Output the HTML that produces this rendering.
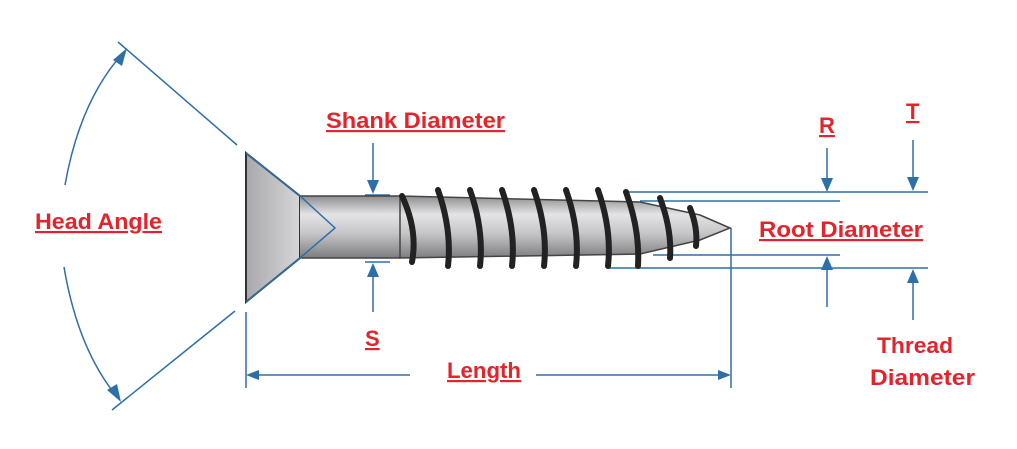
<!DOCTYPE html>
<html><head><style>
html,body{margin:0;padding:0;background:#fff;}
svg{display:block}
text{font-family:"Liberation Sans",sans-serif;font-weight:bold;fill:#e3242b;font-size:22px;text-decoration:underline;}
</style></head><body>
<svg width="1017" height="449" viewBox="0 0 1017 449" xmlns="http://www.w3.org/2000/svg">
<defs>
<linearGradient id="g" x1="0" y1="0" x2="0" y2="1">
<stop offset="0" stop-color="#8e8e92"/><stop offset="0.3" stop-color="#e4e4e6"/><stop offset="0.6" stop-color="#c6c6c9"/><stop offset="1" stop-color="#7d7d80"/>
</linearGradient>
<linearGradient id="h" x1="0" y1="0" x2="1" y2="0">
<stop offset="0" stop-color="#a9a9ad"/><stop offset="1" stop-color="#d6d6d8"/>
</linearGradient>
</defs>
<g fill="none" stroke="#2e6fa8" stroke-width="1.5">
<line x1="118" y1="42" x2="237" y2="145"/>
<line x1="235" y1="311" x2="112" y2="410"/>
<path d="M65 185 Q80 100 124 52"/>
<path d="M64 267 Q78 350 118 398"/>
<line x1="246" y1="312" x2="246" y2="388"/>
<line x1="731" y1="228" x2="731" y2="388"/>
<line x1="250" y1="375" x2="410" y2="375"/>
<line x1="536" y1="375" x2="726" y2="375"/>
<line x1="373" y1="143" x2="373" y2="185"/>
<line x1="373" y1="268" x2="373" y2="312"/>
<line x1="365" y1="195" x2="390" y2="195"/>
<line x1="365" y1="262" x2="390" y2="262"/>
<line x1="623" y1="192" x2="928" y2="192"/>
<line x1="640" y1="201" x2="840" y2="201"/>
<line x1="653" y1="255" x2="840" y2="255"/>
<line x1="608" y1="268" x2="928" y2="268"/>
<line x1="827" y1="148" x2="827" y2="185"/>
<line x1="827" y1="262" x2="827" y2="307"/>
<line x1="913" y1="140" x2="913" y2="180"/>
<line x1="913" y1="280" x2="913" y2="320"/>
</g>
<g fill="#2e6fa8">
<polygon points="127,48 113,60 122,66"/>
<polygon points="121,402 107,390 117,384"/>
<polygon points="246,375 259,370 259,380"/>
<polygon points="731,375 718,370 718,380"/>
<polygon points="373,194 367,180 379,180"/>
<polygon points="373,263 367,277 379,277"/>
<polygon points="827,192 821,178 833,178"/>
<polygon points="827,256 821,270 833,270"/>
<polygon points="913,191 907,177 919,177"/>
<polygon points="913,269 907,283 919,283"/>
</g>
<polygon points="246,153 300,196 300,258 246,302" fill="url(#h)" stroke="#333" stroke-width="2"/>
<rect x="300" y="196" width="100" height="62" fill="url(#g)"/>
<line x1="300" y1="196" x2="400" y2="196" stroke="#444" stroke-width="1.5"/>
<line x1="300" y1="258" x2="400" y2="258" stroke="#444" stroke-width="1.5"/>
<polygon points="400,196 640,202 700,215 730,228 700,240 640,254 400,258" fill="url(#g)" stroke="#444" stroke-width="1.5"/>
<g fill="none" stroke="#222" stroke-width="6" stroke-linecap="round">
<path d="M402 196 Q418 230 412 262"/>
<path d="M438 190 Q452 230 448 266"/>
<path d="M470 190 Q484 230 480 266"/>
<path d="M502 190 Q516 230 512 266"/>
<path d="M534 190 Q548 230 544 266"/>
<path d="M566 190 Q580 230 576 266"/>
<path d="M598 190 Q612 230 608 266"/>
<path d="M626 192 Q640 230 638 266"/>
<path d="M660 198 Q672 230 670 258"/>
<path d="M690 208 Q698 228 696 246"/>
</g>
<g fill="none" stroke="#2e6fa8" stroke-width="1.5">
<polyline points="246,153 300,196 335,228 300,258 246,302"/>
</g>
<text x="326" y="128" textLength="179" lengthAdjust="spacingAndGlyphs">Shank Diameter</text>
<text x="35" y="229" textLength="127" lengthAdjust="spacingAndGlyphs">Head Angle</text>
<text x="365" y="346">S</text>
<text x="819" y="133">R</text>
<text x="906" y="119">T</text>
<text x="759" y="237" textLength="164" lengthAdjust="spacingAndGlyphs">Root Diameter</text>
<text x="447" y="378" textLength="74" lengthAdjust="spacingAndGlyphs">Length</text>
<text x="877" y="353" textLength="76" lengthAdjust="spacingAndGlyphs" style="text-decoration:none">Thread</text>
<text x="870" y="385" textLength="105" lengthAdjust="spacingAndGlyphs" style="text-decoration:none">Diameter</text>
</svg>
</body></html>
